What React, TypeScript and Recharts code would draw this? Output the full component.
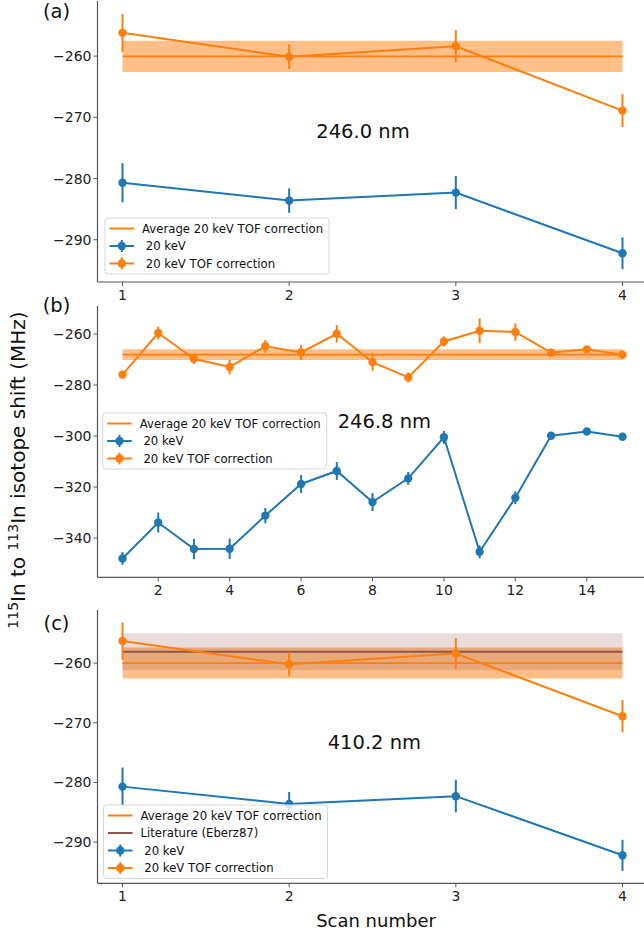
import React from "react";
import {
  ComposedChart,
  Line,
  XAxis,
  YAxis,
  ErrorBar,
  ReferenceArea,
  ReferenceLine,
} from "recharts";

// panel (a) 246.0 nm
const scansA = [1, 2, 3, 4];
const kevA = [-280.7, -283.6, -282.3, -292.2];
const kevErrA = [3.2, 2.0, 2.7, 2.6];
const tofA = [-256.2, -260.1, -258.4, -268.9];
const tofErrA = [3.1, 2.0, 2.6, 2.7];
const avgA = -260.05;
const avgErrA = 2.55;

// panel (b) 246.8 nm
const scansB = [1, 2, 3, 4, 5, 6, 7, 8, 9, 10, 11, 12, 13, 14, 15];
const kevB = [-348.0, -333.9, -344.3, -344.2, -331.2, -318.8, -313.7, -325.9, -316.6, -300.5, -345.4, -324.2, -299.9, -298.2, -300.3];
const kevErrB = [2.5, 3.9, 4.0, 4.0, 3.0, 3.5, 3.5, 3.5, 2.5, 2.5, 2.5, 2.5, 1.5, 1.0, 1.0];
const tofB = [-275.9, -259.6, -269.7, -272.9, -264.8, -267.2, -259.9, -271.0, -277.0, -262.9, -258.7, -259.2, -267.3, -266.0, -268.1];
const tofErrB = [1.5, 2.5, 2.0, 2.9, 2.5, 3.0, 3.4, 3.4, 2.0, 2.0, 4.8, 3.4, 1.5, 1.0, 1.5];
const avgB = -268.1;
const avgErrB = 2.1;

// panel (c) 410.2 nm
const scansC = [1, 2, 3, 4];
const kevC = [-280.7, -283.6, -282.3, -292.2];
const kevErrC = [3.2, 2.0, 2.7, 2.6];
const tofC = [-256.3, -260.2, -258.4, -268.9];
const tofErrC = [3.1, 2.0, 2.6, 2.7];
const avgC = -260.0;
const avgErrC = 2.6;
const litC = -258.1;
const litErrC = 3.1;

const ticksX4 = [1, 2, 3, 4];
const ticksX15 = [2, 4, 6, 8, 10, 12, 14];
const ticksYA = [-260, -270, -280, -290];
const ticksYB = [-260, -280, -300, -320, -340];

const FONT = "DejaVu Sans";
const BLUE = "#1f77b4";
const ORANGE = "#ff7f0e";
const BROWN = "#8c564b";
const SPINE = "#555";

const fmt = (v: number) => String(v).replace("-", "\u2212");

type PanelProps = {
  top: number;
  height: number;
  marginTop: number;
  xDomain: [number, number];
  xTicks: number[];
  yDomain: [number, number];
  yTicks: number[];
  scans: number[];
  kev: number[];
  kevErr: number[];
  tof: number[];
  tofErr: number[];
  avg: number;
  avgErr: number;
  lit?: number;
  litErr?: number;
};

function Panel(p: PanelProps) {
  const data = p.scans.map((s, i) => ({
    scan: s,
    kev: p.kev[i],
    kevErr: p.kevErr[i],
    tof: p.tof[i],
    tofErr: p.tofErr[i],
  }));
  const x0 = p.scans[0];
  const x1 = p.scans[p.scans.length - 1];
  const tick = { fontSize: 14, fill: "#222", fontFamily: FONT };
  return (
    <div style={{ position: "absolute", left: 0, top: p.top }}>
      <ComposedChart
        width={650}
        height={p.height}
        data={data}
        margin={{ top: p.marginTop, right: 2.5, bottom: 0, left: 0 }}
      >
        <XAxis
          dataKey="scan"
          type="number"
          domain={p.xDomain}
          ticks={p.xTicks}
          allowDataOverflow
          height={30}
          tick={tick}
          tickSize={4}
          tickMargin={4}
          stroke={SPINE}
          axisLine={{ stroke: SPINE, strokeWidth: 1.2 }}
          tickLine={{ stroke: SPINE }}
        />
        <XAxis
          xAxisId="top"
          orientation="top"
          type="number"
          domain={p.xDomain}
          allowDataOverflow
          height={0}
          tick={false}
          tickLine={false}
          axisLine={{ stroke: SPINE, strokeWidth: 1.2 }}
        />
        <YAxis
          type="number"
          domain={p.yDomain}
          ticks={p.yTicks}
          allowDataOverflow
          width={97.5}
          tick={tick}
          tickFormatter={fmt}
          tickSize={4}
          tickMargin={2}
          axisLine={{ stroke: SPINE, strokeWidth: 1.2 }}
          tickLine={{ stroke: SPINE }}
        />
        <ReferenceArea
          x1={x0}
          x2={x1}
          y1={p.avg - p.avgErr}
          y2={p.avg + p.avgErr}
          fill={ORANGE}
          fillOpacity={0.5}
          stroke="none"
        />
        <ReferenceLine
          segment={[{ x: x0, y: p.avg }, { x: x1, y: p.avg }]}
          stroke={ORANGE}
          strokeWidth={1.8}
        />
        {p.lit !== undefined && (
          <ReferenceArea
            x1={x0}
            x2={x1}
            y1={p.lit - (p.litErr || 0)}
            y2={p.lit + (p.litErr || 0)}
            fill={BROWN}
            fillOpacity={0.2}
            stroke="none"
          />
        )}
        {p.lit !== undefined && (
          <ReferenceLine
            segment={[{ x: x0, y: p.lit }, { x: x1, y: p.lit }]}
            stroke={BROWN}
            strokeWidth={1.8}
          />
        )}
        <Line
          dataKey="kev"
          stroke={BLUE}
          strokeWidth={2}
          dot={{ r: 4.2, fill: BLUE, stroke: BLUE, strokeWidth: 0 }}
          isAnimationActive={false}
        >
          <ErrorBar dataKey="kevErr" direction="y" width={0} stroke={BLUE} strokeWidth={2} />
        </Line>
        <Line
          dataKey="tof"
          stroke={ORANGE}
          strokeWidth={2}
          dot={{ r: 4.2, fill: ORANGE, stroke: ORANGE, strokeWidth: 0 }}
          isAnimationActive={false}
        >
          <ErrorBar dataKey="tofErr" direction="y" width={0} stroke={ORANGE} strokeWidth={2} />
        </Line>
      </ComposedChart>
    </div>
  );
}

type Row = { label: string; color: string; err: boolean };

function LegendBox({ x, y, rows }: { x: number; y: number; rows: Row[] }) {
  const h = 21 + (rows.length - 1) * 17.5;
  return (
    <g>
      <rect x={x} y={y} width={224} height={h} rx={3} fill="#fff" fillOpacity={0.8} stroke="#d6d6d6" />
      {rows.map((r, i) => {
        const cy = y + 10.5 + i * 17.5;
        return (
          <g key={i}>
            <line x1={x + 4.5} x2={x + 29} y1={cy} y2={cy} stroke={r.color} strokeWidth={2} />
            {r.err && <line x1={x + 16.8} x2={x + 16.8} y1={cy - 6} y2={cy + 6} stroke={r.color} strokeWidth={2} />}
            {r.err && <circle cx={x + 16.8} cy={cy} r={4.2} fill={r.color} />}
            <text
              x={x + 37}
              y={cy}
              dominantBaseline="central"
              fontSize={11.7}
              fontFamily={FONT}
              fill="#111"
              style={{ whiteSpace: "pre" }}
            >
              {r.label}
            </text>
          </g>
        );
      })}
    </g>
  );
}

const rowsAB: Row[] = [
  { label: "Average 20 keV TOF correction", color: ORANGE, err: false },
  { label: " 20 keV", color: BLUE, err: true },
  { label: " 20 keV TOF correction", color: ORANGE, err: true },
];
const rowsC: Row[] = [
  { label: "Average 20 keV TOF correction", color: ORANGE, err: false },
  { label: "Literature (Eberz87)", color: BROWN, err: false },
  { label: " 20 keV", color: BLUE, err: true },
  { label: " 20 keV TOF correction", color: ORANGE, err: true },
];

export default function App() {
  const big = { fontSize: 19.5, fontFamily: FONT, fill: "#111" };
  return (
    <div
      style={{
        position: "absolute",
        left: 0,
        top: 0,
        width: 644,
        height: 935,
        overflow: "hidden",
        background: "#fff",
      }}
    >
      <Panel
        top={0}
        height={312}
        marginTop={1}
        xDomain={[0.85, 4.15]}
        xTicks={ticksX4}
        yDomain={[-296.9, -251.0]}
        yTicks={ticksYA}
        scans={scansA}
        kev={kevA}
        kevErr={kevErrA}
        tof={tofA}
        tofErr={tofErrA}
        avg={avgA}
        avgErr={avgErrA}
      />
      <Panel
        top={296}
        height={311.3}
        marginTop={10}
        xDomain={[0.3, 15.7]}
        xTicks={ticksX15}
        yDomain={[-355.4, -249.0]}
        yTicks={ticksYB}
        scans={scansB}
        kev={kevB}
        kevErr={kevErrB}
        tof={tofB}
        tofErr={tofErrB}
        avg={avgB}
        avgErr={avgErrB}
      />
      <Panel
        top={600}
        height={313.3}
        marginTop={10}
        xDomain={[0.85, 4.15]}
        xTicks={ticksX4}
        yDomain={[-296.9, -251.1]}
        yTicks={ticksYA}
        scans={scansC}
        kev={kevC}
        kevErr={kevErrC}
        tof={tofC}
        tofErr={tofErrC}
        avg={avgC}
        avgErr={avgErrC}
        lit={litC}
        litErr={litErrC}
      />
      <svg
        width={644}
        height={935}
        style={{ position: "absolute", left: 0, top: 0, pointerEvents: "none" }}
      >
        <text x={56.5} y={18} textAnchor="middle" {...big}>(a)</text>
        <text x={56.5} y={311.5} textAnchor="middle" {...big}>(b)</text>
        <text x={56.5} y={629.5} textAnchor="middle" {...big}>(c)</text>
        <text x={363} y={138.3} textAnchor="middle" {...big}>246.0 nm</text>
        <text x={384.4} y={428.3} textAnchor="middle" {...big}>246.8 nm</text>
        <text x={374.4} y={749} textAnchor="middle" {...big}>410.2 nm</text>
        <text x={376} y={927} textAnchor="middle" fontSize={18} fontFamily={FONT} fill="#111">
          Scan number
        </text>
        <text
          x={25}
          y={470}
          transform="rotate(-90 25 470)"
          textAnchor="middle"
          fontSize={20}
          fontFamily={FONT}
          fill="#111"
        >
          <tspan fontSize={14} dy={-7}>115</tspan>
          <tspan dy={7}>In to </tspan>
          <tspan fontSize={14} dy={-7}>113</tspan>
          <tspan dy={7}>In isotope shift (MHz)</tspan>
        </text>
        <LegendBox x={105} y={218} rows={rowsAB} />
        <LegendBox x={102.7} y={413} rows={rowsAB} />
        <LegendBox x={103.5} y={805} rows={rowsC} />
      </svg>
    </div>
  );
}
